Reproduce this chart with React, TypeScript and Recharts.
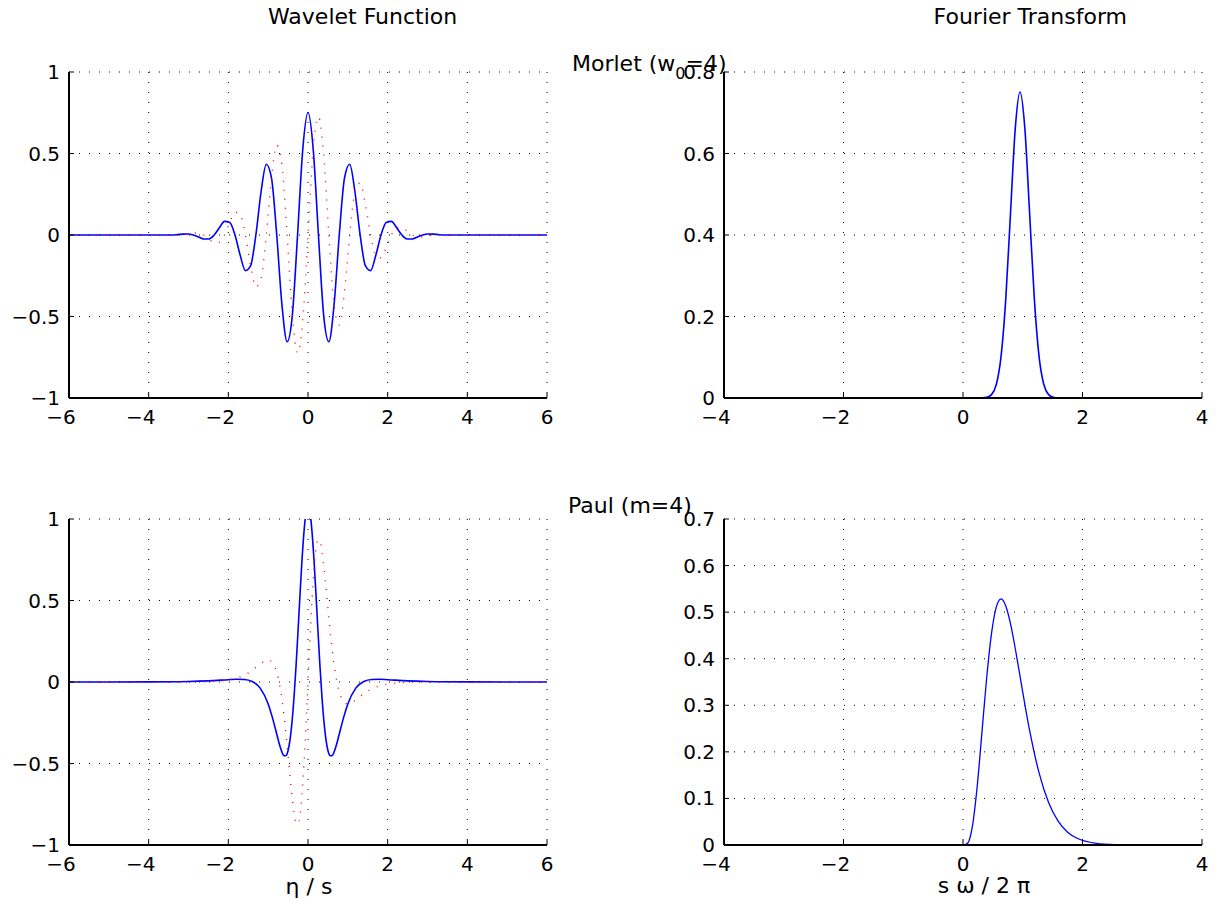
import { LineChart, Line, XAxis, YAxis, CartesianGrid } from 'recharts';

const FONT = '"DejaVu Sans", sans-serif';

// Morlet wavelet, real (solid) and imaginary (dotted) parts vs eta/s
const morletEta = [
  -6, -5, -4, -3.403, -3.272, -3.142, -3.011, -2.88, -2.749, -2.618, -2.487, -2.356, -2.225, -2.094, -1.963,
  -1.833, -1.702, -1.571, -1.44, -1.309, -1.178, -1.047, -0.916, -0.785, -0.654, -0.524, -0.393, -0.262, -0.131,
  0, 0.131, 0.262, 0.393, 0.524, 0.654, 0.785, 0.916, 1.047, 1.178, 1.309, 1.44, 1.571, 1.702, 1.833, 1.963,
  2.094, 2.225, 2.356, 2.487, 2.618, 2.749, 2.88, 3.011, 3.142, 3.272, 3.403, 4, 5, 6,
];
const morletRe = [
  0, 0, 0, 0, 0.0025, 0.0054, 0.0057, 0, -0.0122, -0.0244, -0.0241, 0, 0.0447, 0.0838, 0.0773,
  0, -0.1248, -0.2187, -0.1884, 0, 0.2653, 0.4341, 0.349, 0, -0.4287, -0.6549, -0.4917, 0, 0.5266,
  0.7511, 0.5266, 0, -0.4917, -0.6549, -0.4287, 0, 0.349, 0.4341, 0.2653, 0, -0.1884, -0.2187, -0.1248, 0, 0.0773,
  0.0838, 0.0447, 0, -0.0241, -0.0244, -0.0122, 0, 0.0057, 0.0054, 0.0025, 0, 0, 0, 0,
];
const morletIm = [
  0, 0, 0, -0.0023, -0.0025, 0, 0.0057, 0.0119, 0.0122, 0, -0.0241, -0.0468, -0.0447, 0, 0.0773,
  0.1401, 0.1248, 0, -0.1884, -0.3189, -0.2653, 0, 0.349, 0.5518, 0.4287, 0, -0.4917, -0.7258, -0.5266,
  0, 0.5266, 0.7258, 0.4917, 0, -0.4287, -0.5518, -0.349, 0, 0.2653, 0.3189, 0.1884, 0, -0.1248, -0.1401, -0.0773,
  0, 0.0447, 0.0468, 0.0241, 0, -0.0122, -0.0119, -0.0057, 0, 0.0025, 0.0023, 0, 0, 0,
];

// Paul (m=4) wavelet
const paulEta = [
  -6, -4, -3, -2.5, -2, -1.8, -1.6, -1.4, -1.2, -1, -0.9, -0.8, -0.7, -0.65, -0.6, -0.55, -0.5, -0.45, -0.4,
  -0.35, -0.3, -0.25, -0.2, -0.15, -0.1, -0.05, 0, 0.05, 0.1, 0.15, 0.2, 0.25, 0.3, 0.35, 0.4, 0.45, 0.5,
  0.55, 0.6, 0.65, 0.7, 0.8, 0.9, 1, 1.2, 1.4, 1.6, 1.8, 2, 2.5, 3, 4, 6,
];
const paulRe = [
  0.0002, 0.0009, 0.0034, 0.0072, 0.014, 0.0166, 0.0154, 0.0029, -0.0378, -0.1349, -0.2123, -0.3048, -0.3966,
  -0.4326, -0.4528, -0.4507, -0.42, -0.3515, -0.2423, -0.0908, 0.0984, 0.3147, 0.5389, 0.7506, 0.9244, 1.0389,
  1.0789, 1.0389, 0.9244, 0.7506, 0.5389, 0.3147, 0.0984, -0.0908, -0.2423, -0.3515, -0.42, -0.4507, -0.4528,
  -0.4326, -0.3966, -0.3048, -0.2123, -0.1349, -0.0378, 0.0029, 0.0154, 0.0166, 0.014, 0.0072, 0.0034, 0.0009, 0.0002,
];
const paulIm = [
  0, 0, 0.0001, 0.0025, 0.0133, 0.024, 0.0424, 0.0715, 0.1097, 0.1349, 0.1219, 0.0723, -0.035, -0.1154, -0.2125,
  -0.3278, -0.4528, -0.5827, -0.7038, -0.8031, -0.8642, -0.8721, -0.8163, -0.6914, -0.5031, -0.265, 0, 0.265,
  0.5031, 0.6914, 0.8163, 0.8721, 0.8642, 0.8031, 0.7038, 0.5827, 0.4528, 0.3278, 0.2125, 0.1154, 0.035,
  -0.0723, -0.1219, -0.1349, -0.1097, -0.0715, -0.0424, -0.024, -0.0133, -0.0025, -0.0001, 0, 0,
];

// Fourier transforms vs s*omega/2pi
const morletFreq = [
  -3.1416, 0, 0.3183, 0.3979, 0.4775, 0.557, 0.6366, 0.7162, 0.7958, 0.8754, 0.9549, 1.0345, 1.1141, 1.1937,
  1.2732, 1.3528, 1.4324, 1.512, 1.5915, 3.1416,
];
const morletFt = [
  0, 0, 0.0003, 0.0016, 0.0083, 0.033, 0.1017, 0.2438, 0.4556, 0.6628, 0.7511, 0.6628, 0.4556, 0.2438,
  0.1017, 0.033, 0.0083, 0.0016, 0.0003, 0,
];
const paulFreq = [
  -3.1416, 0, 0.0796, 0.1592, 0.2387, 0.3183, 0.3979, 0.4775, 0.557, 0.6366, 0.7162, 0.7958, 0.8754, 0.9549,
  1.1141, 1.2732, 1.4324, 1.5915, 1.7507, 1.9099, 2.2282, 2.5465, 2.8648, 3.1416,
];
const paulFt = [
  0, 0, 0.0043, 0.0415, 0.1273, 0.244, 0.3613, 0.4545, 0.5107, 0.5284, 0.5133, 0.4746, 0.4214, 0.362,
  0.2467, 0.1548, 0.0912, 0.0512, 0.0276, 0.0144, 0.0036, 0.0008, 0.0002, 0,
];

const waveletXTicks = [-6, -4, -2, 0, 2, 4, 6];
const waveletYTicks = [-1, -0.5, 0, 0.5, 1];
const fourierXTicks = [-4, -2, 0, 2, 4];
const morletFtYTicks = [0, 0.2, 0.4, 0.6, 0.8];
const paulFtYTicks = [0, 0.1, 0.2, 0.3, 0.4, 0.5, 0.6, 0.7];

const morletRows = morletEta.map((x, i) => ({ x, re: morletRe[i], im: morletIm[i] }));
const paulRows = paulEta.map((x, i) => ({ x, re: paulRe[i], im: paulIm[i] }));
const morletFtRows = morletFreq.map((x, i) => ({ x, y: morletFt[i] }));
const paulFtRows = paulFreq.map((x, i) => ({ x, y: paulFt[i] }));

const fmt = (v: number) => String(v).replace('-', '\u2212');

// MATLAB centres the digits on the tick, the minus sign hangs to the left
function XTick(props: any) {
  const { x, y, payload } = props;
  const v = payload.value as number;
  return (
    <text x={x} y={y + 26} dx={v < 0 ? -8 : 0} textAnchor="middle" fontSize={20} fontFamily={FONT} fill="#000">
      {fmt(v)}
    </text>
  );
}

function YTick(props: any) {
  const { x, y, payload } = props;
  return (
    <text x={x} y={y} dy={7} textAnchor="end" fontSize={20} fontFamily={FONT} fill="#000">
      {fmt(payload.value)}
    </text>
  );
}

const axisLine = { stroke: '#000', strokeWidth: 2 };
const tickLine = { stroke: '#000', strokeWidth: 1 };

interface PanelProps {
  left: number;
  top: number;
  data: object[];
  xDomain: [number, number];
  xTicks: number[];
  yDomain: [number, number];
  yTicks: number[];
  children: React.ReactNode;
}

function Panel({ left, top, data, xDomain, xTicks, yDomain, yTicks, children }: PanelProps) {
  return (
    <div style={{ position: 'absolute', left, top }}>
      <LineChart width={550} height={386} data={data} margin={{ top: 20, right: 12, bottom: 0, left: 0 }}>
        <CartesianGrid stroke="#000" strokeDasharray="1 9" />
        <XAxis
          dataKey="x"
          type="number"
          domain={xDomain}
          ticks={xTicks}
          interval={0}
          allowDataOverflow
          height={40}
          tickSize={-5}
          tickMargin={5}
          tick={<XTick />}
          axisLine={axisLine}
          tickLine={tickLine}
        />
        <XAxis
          xAxisId="top"
          orientation="top"
          type="number"
          domain={xDomain}
          ticks={xTicks}
          interval={0}
          allowDataOverflow
          height={0}
          tickSize={-5}
          tick={false}
          axisLine={axisLine}
          tickLine={tickLine}
        />
        <YAxis
          type="number"
          domain={yDomain}
          ticks={yTicks}
          interval={0}
          allowDataOverflow
          width={60}
          tickSize={-5}
          tickMargin={14}
          tick={<YTick />}
          axisLine={axisLine}
          tickLine={tickLine}
        />
        <YAxis
          yAxisId="right"
          orientation="right"
          type="number"
          domain={yDomain}
          ticks={yTicks}
          interval={0}
          allowDataOverflow
          width={0}
          tickSize={-5}
          tick={false}
          axisLine={axisLine}
          tickLine={tickLine}
        />
        {children}
      </LineChart>
    </div>
  );
}

export default function App() {
  return (
    <div style={{ position: 'absolute', left: 0, top: 0, width: 1216, height: 905, background: '#fff', overflow: 'hidden' }}>
      <Panel left={9} top={52} data={morletRows} xDomain={[-6, 6]} xTicks={waveletXTicks} yDomain={[-1, 1]} yTicks={waveletYTicks}>
        <Line type="monotone" dataKey="re" stroke="#0000ff" strokeWidth={1.6} dot={false} isAnimationActive={false} />
        <Line type="monotone" dataKey="im" stroke="#ff0000" strokeWidth={1.4} strokeDasharray="1 8" dot={false} isAnimationActive={false} />
      </Panel>
      <Panel left={664} top={52} data={morletFtRows} xDomain={[-4, 4]} xTicks={fourierXTicks} yDomain={[0, 0.8]} yTicks={morletFtYTicks}>
        <Line type="monotone" dataKey="y" stroke="#0000ff" strokeWidth={1.6} dot={false} isAnimationActive={false} />
      </Panel>
      <Panel left={9} top={499} data={paulRows} xDomain={[-6, 6]} xTicks={waveletXTicks} yDomain={[-1, 1]} yTicks={waveletYTicks}>
        <Line type="monotone" dataKey="re" stroke="#0000ff" strokeWidth={1.6} dot={false} isAnimationActive={false} />
        <Line type="monotone" dataKey="im" stroke="#ff0000" strokeWidth={1.4} strokeDasharray="1 8" dot={false} isAnimationActive={false} />
      </Panel>
      <Panel left={664} top={499} data={paulFtRows} xDomain={[-4, 4]} xTicks={fourierXTicks} yDomain={[0, 0.7]} yTicks={paulFtYTicks}>
        <Line type="monotone" dataKey="y" stroke="#0000ff" strokeWidth={1.3} dot={false} isAnimationActive={false} />
      </Panel>
      <svg width={1216} height={905} style={{ position: 'absolute', left: 0, top: 0, pointerEvents: 'none' }}>
        <g fontFamily={FONT} fontSize={22} fill="#000">
          <text x={268} y={24}>Wavelet Function</text>
          <text x={1127} y={24} textAnchor="end">Fourier Transform</text>
          <text x={572} y={71}>
            Morlet (w
            <tspan dy={8} fontSize={16}>0</tspan>
            <tspan dy={-8}>=4)</tspan>
          </text>
          <text x={568} y={513}>Paul (m=4)</text>
          <text x={309} y={894} textAnchor="middle">η / s</text>
          <text x={984} y={893} textAnchor="middle">s ω / 2 π</text>
        </g>
      </svg>
    </div>
  );
}
